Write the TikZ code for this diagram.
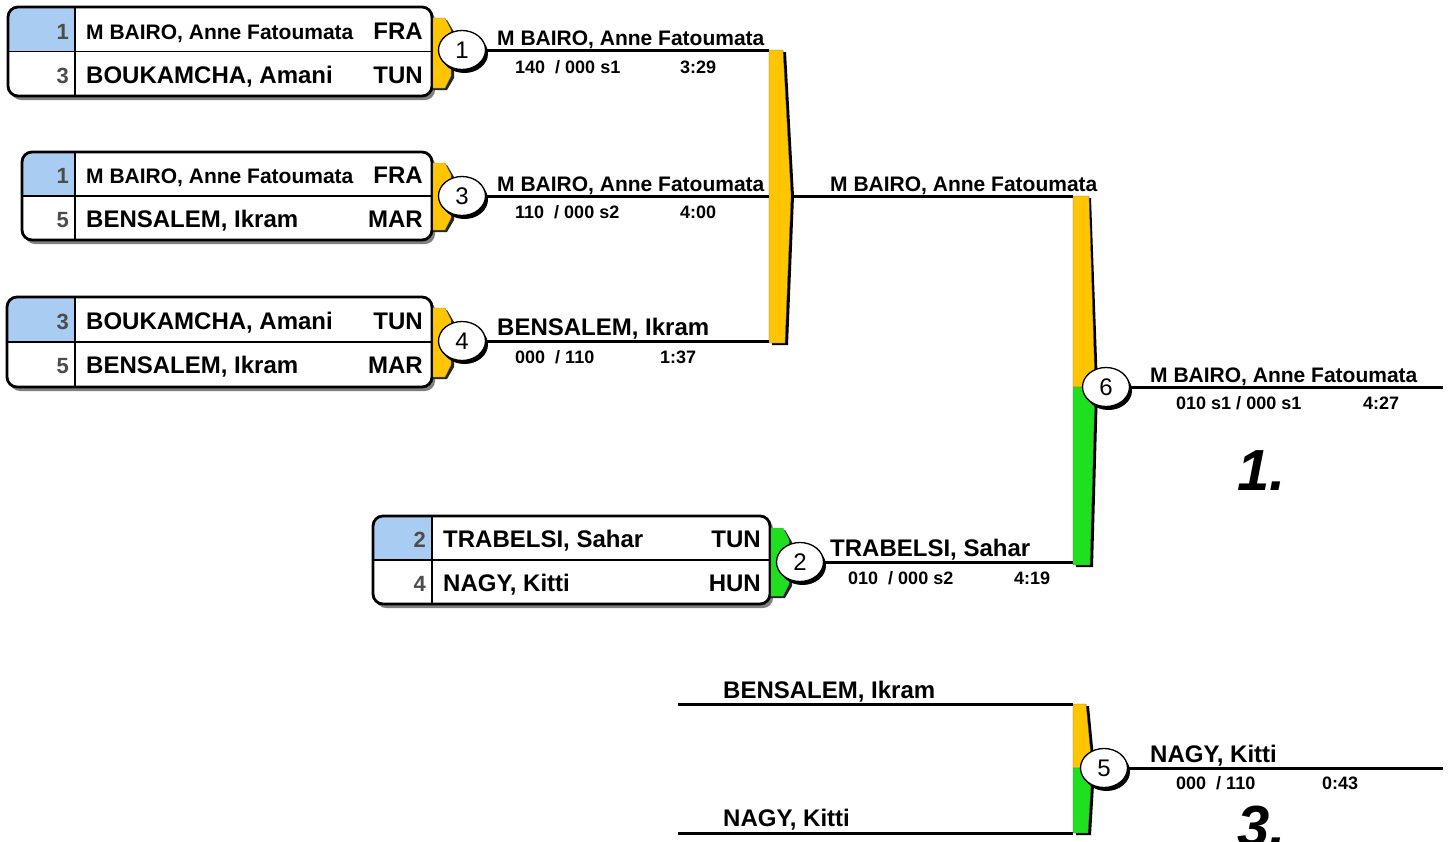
\documentclass[tikz,border=0pt]{standalone}
\usepackage{fontspec}
\setmainfont{Liberation Sans}
\usetikzlibrary{
  positioning,
  fit,
  shapes.geometric,
  shadows
}
\definecolor{seedblue}{HTML}{A9CDF2}
\definecolor{gold}{HTML}{FFC600}
\definecolor{wingreen}{HTML}{1EE01E}

\newcommand{\bigfont}{\fontsize{24}{28}\selectfont\bfseries}
\newcommand{\midfont}{\fontsize{21}{25}\selectfont\bfseries}
\newcommand{\scorefont}{\fontsize{18}{22}\selectfont\bfseries}
\newcommand{\seedfont}{\fontsize{22}{26}\selectfont\bfseries}
\newcommand{\boutfont}{\fontsize{24}{28}\selectfont}
\newcommand{\rankfont}{\fontsize{58}{64}\selectfont\bfseries\itshape}

% pool box: name, left, top, right, bottom, seed column
\newcommand{\pairbox}[6]{%
  \fill[black!50, rounded corners=10pt] (#2+3,#3+3) rectangle (#4+3,#5+4);
  \fill[white, rounded corners=10pt] (#2,#3) rectangle (#4,#5);
  \begin{scope}
    \clip[rounded corners=10pt] (#2,#3) rectangle (#4,#5);
    \fill[seedblue] (#2,#3) rectangle (#6,{(#3+#5)/2});
  \end{scope}
  \draw[line width=1.2pt] (#2,{(#3+#5)/2}) -- (#4,{(#3+#5)/2});
  \draw[line width=1.2pt] (#6,#3) -- (#6,#5);
  \node[frame, fit={(#2,#3) (#4,#5)}] (#1) {};
}
% one fencer row: id, baseline, seed column, right edge, seed, name, country, font
\newcommand{\entrant}[8]{%
  \node[seednum] (#1-s) at (#3-6,#2) {#5};
  \node[pname, font=#8] (#1-n) at (#3+11,#2) {#6};
  \node[ctry] (#1-c) at (#4-9,#2) {#7};
}
% coloured tab: colour, x, top, bottom
\newcommand{\tabshape}[4]{%
  \fill[black!85] (#2,#3+2) -- (#2+14,#3+2) -- (#2+21,#3+14) -- (#2+21,#4-10) -- (#2+14,#4+2) -- (#2,#4+2) -- cycle;
  \filldraw[fill=#1, draw=black!50, thin] (#2,#3) -- (#2+12,#3) -- (#2+18,#3+12) -- (#2+18,#4-12) -- (#2+12,#4) -- (#2,#4) -- cycle;
}

\begin{document}
\begin{tikzpicture}[
  x=1pt, y=-1pt,
  frame/.style={draw, line width=2.8pt, rounded corners=10pt, inner sep=0pt},
  seednum/.style={anchor=base east, inner sep=0pt, font=\seedfont, text=black!70},
  pname/.style={anchor=base west, inner sep=0pt},
  ctry/.style={anchor=base east, inner sep=0pt, font=\bigfont},
  winner/.style={anchor=base west, inner sep=0pt},
  score/.style={anchor=base west, inner sep=0pt, font=\scorefont},
  bout/.style={ellipse, draw, line width=1.3pt, fill=white, minimum width=47pt,
               minimum height=39pt, inner sep=0pt, font=\boutfont,
               drop shadow={opacity=1, fill=black, shadow xshift=2.5pt, shadow yshift=-3.5pt}},
  wire/.style={line width=3pt},
  rank/.style={anchor=base west, inner sep=0pt, font=\rankfont}
]
  \path[use as bounding box, fill=white] (0,0) rectangle (1450,841);

  % Pools
  \pairbox{b1}{8}{7}{432}{96}{75}
  \entrant{b1a}{39}{75}{432}{1}{M BAIRO, Anne Fatoumata}{FRA}{\midfont}
  \entrant{b1b}{83}{75}{432}{3}{BOUKAMCHA, Amani}{TUN}{\bigfont}

  \pairbox{b3}{22}{152}{432}{240}{75}
  \entrant{b3a}{183}{75}{432}{1}{M BAIRO, Anne Fatoumata}{FRA}{\midfont}
  \entrant{b3b}{227}{75}{432}{5}{BENSALEM, Ikram}{MAR}{\bigfont}

  \pairbox{b4}{7}{297}{432}{387}{75}
  \entrant{b4a}{329}{75}{432}{3}{BOUKAMCHA, Amani}{TUN}{\bigfont}
  \entrant{b4b}{373}{75}{432}{5}{BENSALEM, Ikram}{MAR}{\bigfont}

  \pairbox{b2}{373}{516}{770}{604}{432}
  \entrant{b2a}{547}{432}{770}{2}{TRABELSI, Sahar}{TUN}{\bigfont}
  \entrant{b2b}{591}{432}{770}{4}{NAGY, Kitti}{HUN}{\bigfont}

  % Tabs
  \foreach \t/\b in {18/88, 163/230, 308/377}
    \tabshape{gold}{433}{\t}{\b};
  \tabshape{wingreen}{771}{528}{596}

  % Bars
  \fill[black] (772,52) -- (786,52) -- (794,196) -- (788,345) -- (772,345) -- cycle;
  \filldraw[fill=gold, draw=black!60, thin] (769,50) -- (783,50) -- (791,196) -- (785,343) -- (769,343) -- cycle;

  \fill[black] (1076,198) -- (1091,198) -- (1098,387) -- (1093,567) -- (1076,567) -- cycle;
  \filldraw[fill=gold, draw=black!60, thin] (1073,196) -- (1089,196) -- (1095,387) -- (1073,387) -- cycle;
  \filldraw[fill=wingreen, draw=black!60, thin] (1073,387) -- (1095,387) -- (1090,565) -- (1073,565) -- cycle;

  \fill[black] (1076,706) -- (1089,706) -- (1095,768) -- (1091,835) -- (1076,835) -- cycle;
  \filldraw[fill=gold, draw=black!60, thin] (1073,704) -- (1086,704) -- (1092,768) -- (1073,768) -- cycle;
  \filldraw[fill=wingreen, draw=black!60, thin] (1073,768) -- (1092,768) -- (1088,833) -- (1073,833) -- cycle;

  % Bouts
  \node[bout] (m1) at (462,50) {1};
  \node[bout] (m3) at (462,196) {3};
  \node[bout] (m4) at (462,341) {4};
  \node[bout] (m2) at (800,562) {2};
  \node[bout] (m6) at (1106,387) {6};
  \node[bout] (m5) at (1104,768) {5};

  % Joints
  \coordinate (j1) at (769,50);
  \coordinate (j3) at (769,196);
  \coordinate (j4) at (769,341);
  \coordinate (s1) at (791,196);
  \coordinate (s2) at (1073,196);
  \coordinate (j2) at (1073,562);
  \coordinate (f1) at (1443,387);
  \coordinate (r1a) at (678,704);
  \coordinate (r1b) at (1073,704);
  \coordinate (r2a) at (678,833);
  \coordinate (r2b) at (1073,833);
  \coordinate (f2) at (1443,768);

  \draw[wire] (m1) -- (j1);
  \draw[wire] (m3) -- (j3);
  \draw[wire] (m4) -- (j4);
  \draw[wire] (s1) -- (s2);
  \draw[wire] (m2) -- (j2);
  \draw[wire] (m6) -- (f1);
  \draw[wire] (r1a) -- (r1b);
  \draw[wire] (r2a) -- (r2b);
  \draw[wire] (m5) -- (f2);

  % Results
  \node[winner, font=\midfont] (w1) at (497,45) {M BAIRO, Anne Fatoumata};
  \node[score] (sc1) at (515,73) {140\ \ / 000 s1};
  \node[score] (tm1) at (680,73) {3:29};

  \node[winner, font=\midfont] (w3) at (497,191) {M BAIRO, Anne Fatoumata};
  \node[score] (sc3) at (515,218) {110\ \ / 000 s2};
  \node[score] (tm3) at (680,218) {4:00};

  \node[winner, font=\bigfont] (w4) at (497,335) {BENSALEM, Ikram};
  \node[score] (sc4) at (515,363) {000\ \ / 110};
  \node[score] (tm4) at (660,363) {1:37};

  \node[winner, font=\midfont] (w7) at (830,191) {M BAIRO, Anne Fatoumata};

  \node[winner, font=\bigfont] (w2) at (830,556) {TRABELSI, Sahar};
  \node[score] (sc2) at (848,584) {010\ \ / 000 s2};
  \node[score] (tm2) at (1014,584) {4:19};

  \node[winner, font=\midfont] (w6) at (1150,382) {M BAIRO, Anne Fatoumata};
  \node[score] (sc6) at (1176,409) {010 s1 / 000 s1};
  \node[score] (tm6) at (1363,409) {4:27};

  \node[winner, font=\bigfont] (r1) at (723,698) {BENSALEM, Ikram};
  \node[winner, font=\bigfont] (r2) at (723,826) {NAGY, Kitti};

  \node[winner, font=\bigfont] (w5) at (1150,762) {NAGY, Kitti};
  \node[score] (sc5) at (1176,789) {000\ \ / 110};
  \node[score] (tm5) at (1322,789) {0:43};

  % Places
  \node[rank] (p1) at (1237,490) {1.};
  \node[rank] (p3) at (1237,846) {3.};
\end{tikzpicture}
\end{document}
